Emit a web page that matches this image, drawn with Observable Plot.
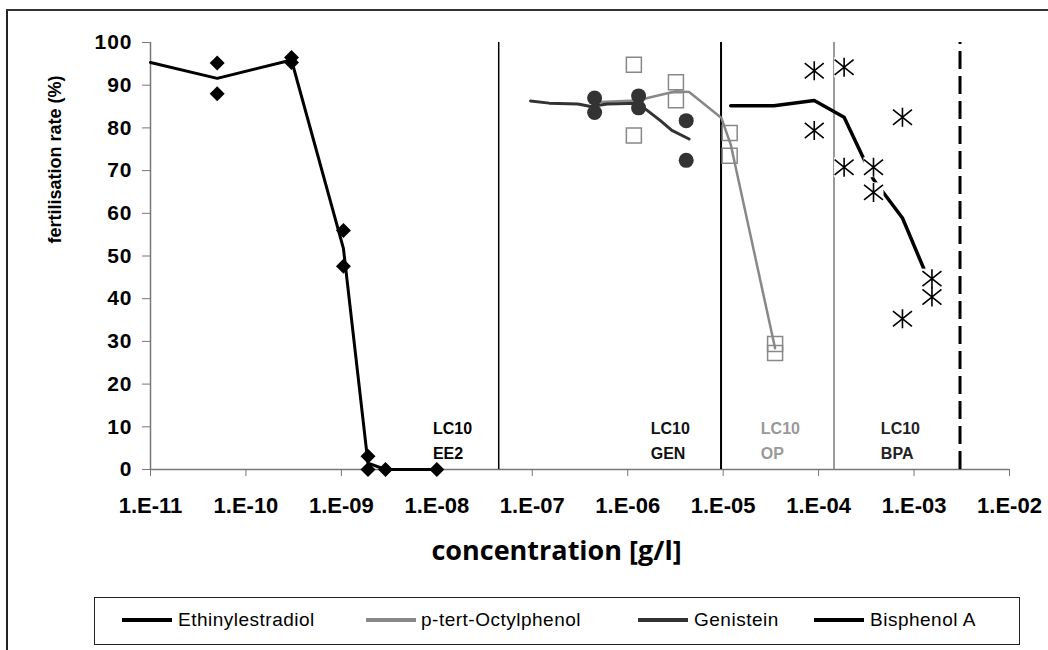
<!DOCTYPE html>
<html>
<head>
<meta charset="utf-8">
<script src="https://cdn.jsdelivr.net/npm/d3@7"></script>
<script src="https://cdn.jsdelivr.net/npm/@observablehq/plot@0.6"></script>
<style>
  html, body { margin: 0; padding: 0; background: #fff; }
  #page { position: relative; width: 1048px; height: 650px; overflow: hidden; background: #fff; }
  #chart { position: absolute; left: 0; top: 0; }
  #frameL { position: absolute; left: 6px; top: 9px; width: 2px; height: 660px; background: #222; }
  #frameT { position: absolute; left: 6px; top: 9px; width: 1060px; height: 2px; background: #333; }
  #legend { position: absolute; left: 94px; top: 597px; width: 926px; height: 48px; border: 1.5px solid #222; box-sizing: border-box; }
  .lg-line { position: absolute; height: 4px; width: 50px; top: 618px; }
  .lg-text { position: absolute; top: 609px; line-height: 22px; font: 19px "Liberation Sans", Arial, sans-serif; letter-spacing: 0.5px; color: #000; white-space: nowrap; }
  svg [aria-label="y-axis tick label"] text { letter-spacing: 1px; }
</style>
</head>
<body>
<div id="page">
  <div id="chart"></div>
  <div id="frameL"></div>
  <div id="frameT"></div>
  <div id="legend"></div>
</div>
<script>
// ---------- data ----------
// Ethinylestradiol (EE2): replicate points and mean line
const ee2Conc = [5e-11, 5e-11, 3e-10, 3e-10, 1.05e-9, 1.05e-9, 1.9e-9, 1.9e-9, 2.9e-9, 1e-8];
const ee2Rate = [95.2, 88.0, 96.5, 95.3, 56.0, 47.6, 3.1, 0, 0, 0];
const ee2LineConc = [1e-11, 5e-11, 3e-10, 1.05e-9, 1.9e-9, 2.9e-9, 1e-8];
const ee2LineRate = [95.3, 91.6, 95.9, 51.8, 1.5, 0, 0];

// p-tert-Octylphenol (OP)
const opConc = [1.16e-6, 1.16e-6, 3.2e-6, 3.2e-6, 1.17e-5, 1.17e-5, 3.5e-5, 3.5e-5];
const opRate = [94.8, 78.2, 90.7, 86.5, 78.8, 73.5, 29.4, 27.3];
const opLineConc = [4.5e-7, 1.25e-6, 3.2e-6, 4.4e-6, 9.6e-6, 1.2e-5, 3.5e-5];
const opLineRate = [86.0, 86.4, 88.6, 88.4, 82.3, 76.1, 28.4];

// Genistein (GEN)
const genConc = [4.5e-7, 4.5e-7, 1.3e-6, 1.3e-6, 4.1e-6, 4.1e-6];
const genRate = [87.0, 83.6, 87.5, 84.7, 81.7, 72.4];
const genLineConc = [9.6e-8, 1.5e-7, 3e-7, 4.1e-7, 6.1e-7, 1.26e-6, 1.6e-6, 2.2e-6, 2.9e-6, 4.4e-6];
const genLineRate = [86.3, 85.8, 85.6, 85.0, 85.6, 85.8, 84.1, 81.7, 79.4, 77.4];

// Bisphenol A (BPA)
const bpaConc = [9e-5, 9e-5, 1.85e-4, 1.85e-4, 3.76e-4, 3.76e-4, 7.56e-4, 7.56e-4, 1.54e-3, 1.54e-3];
const bpaRate = [93.4, 79.4, 94.2, 70.8, 70.8, 64.9, 82.5, 35.3, 44.7, 40.4];
const bpaLineConc = [1.2e-5, 3.4e-5, 9e-5, 1.85e-4, 3.76e-4, 7.56e-4, 1.54e-3];
const bpaLineRate = [85.2, 85.2, 86.4, 82.5, 67.9, 58.9, 42.5];

// LC10 marker lines and labels
const lcRuleConc = [4.45e-8, 9.5e-6, 1.45e-4, 3.03e-3];
const lcNames = ["EE2", "GEN", "OP", "BPA"];
const lcLabelConc = [9.1e-9, 1.74e-6, 2.48e-5, 4.49e-4];

// axes
const xTicks = [1e-11, 1e-10, 1e-9, 1e-8, 1e-7, 1e-6, 1e-5, 1e-4, 1e-3, 1e-2];
const xTickLabels = ["1.E-11", "1.E-10", "1.E-09", "1.E-08", "1.E-07", "1.E-06", "1.E-05", "1.E-04", "1.E-03", "1.E-02"];
const yTicks = [0, 10, 20, 30, 40, 50, 60, 70, 80, 90, 100];

const legendNames = ["Ethinylestradiol", "p-tert-Octylphenol", "Genistein", "Bisphenol A"];
const xTitle = "concentration [g/l]";
const yTitle = "fertilisation rate (%)";

// ---------- helpers ----------
const pts = (xs, ys) => xs.map((x, i) => ({x, y: ys[i]}));
const rad = (s) => Math.sqrt(s / Math.PI);
const diamondSym = {draw(c, s) { const r = rad(s); c.moveTo(0, -r); c.lineTo(r, 0); c.lineTo(0, r); c.lineTo(-r, 0); c.closePath(); }};
const squareSym = {draw(c, s) { const r = rad(s); c.moveTo(-r, -r); c.lineTo(r, -r); c.lineTo(r, r); c.lineTo(-r, r); c.closePath(); }};
const asteriskSym = {draw(c, s) { const r = rad(s); const k = 0.8;
  c.moveTo(0, -r); c.lineTo(0, r);
  c.moveTo(-r, -k * r); c.lineTo(r, k * r);
  c.moveTo(r, -k * r); c.lineTo(-r, k * r); }};

const font = "'Liberation Sans', Arial, sans-serif";
const lcColors = ["#000", "#111", "#999", "#222"];
const lcLabels = lcNames.map((n, i) => ({x: lcLabelConc[i], name: n, color: lcColors[i]}));

const chart = Plot.plot({
  width: 1048,
  height: 580,
  marginLeft: 150,
  marginRight: 39,
  marginTop: 42,
  marginBottom: 111,
  style: {background: "transparent", fontFamily: font, overflow: "visible"},
  x: {type: "log", domain: [1e-11, 1e-2]},
  y: {domain: [0, 100]},
  color: {type: "identity"},
  marks: [
    // axis lines
    Plot.ruleY([0], {stroke: "#777", strokeWidth: 1.5}),
    Plot.ruleX([1e-11], {stroke: "#777", strokeWidth: 1.5}),
    Plot.axisX({ticks: xTicks, tickFormat: (d) => xTickLabels[xTicks.indexOf(d)], tickSize: 7, tickPadding: 21,
      fontSize: 22, fontWeight: "bold", stroke: "#777", fill: "#000", label: null}),
    Plot.axisY({ticks: yTicks, tickSize: 8, tickPadding: 10, fontSize: 21, fontWeight: "bold",
      stroke: "#777", fill: "#000", label: null}),
    // LC10 rules
    Plot.ruleX([lcRuleConc[0]], {y1: 0, y2: 100, stroke: "#000", strokeWidth: 1.5}),
    Plot.ruleX([lcRuleConc[1]], {y1: 0, y2: 100, stroke: "#000", strokeWidth: 2}),
    Plot.ruleX([lcRuleConc[2]], {y1: 0, y2: 100, stroke: "#999", strokeWidth: 2}),
    Plot.ruleX([lcRuleConc[3]], {y1: 0, y2: 100, stroke: "#000", strokeWidth: 3, strokeDasharray: "18,7"}),
    // LC10 labels
    Plot.text(lcLabels, {x: "x", y: 9.4, text: () => "LC10", fill: "color", textAnchor: "start",
      fontSize: 16, fontWeight: "bold", lineAnchor: "middle", style: "letter-spacing:1.5px"}),
    Plot.text(lcLabels, {x: "x", y: 3.75, text: "name", fill: "color", textAnchor: "start",
      fontSize: 16, fontWeight: "bold", lineAnchor: "middle", style: "letter-spacing:0.5px"}),
    // lines
    Plot.line(pts(ee2LineConc, ee2LineRate), {x: "x", y: "y", stroke: "#000", strokeWidth: 3}),
    Plot.line(pts(opLineConc, opLineRate), {x: "x", y: "y", stroke: "#888", strokeWidth: 2.5}),
    Plot.line(pts(genLineConc, genLineRate), {x: "x", y: "y", stroke: "#333", strokeWidth: 3}),
    Plot.line(pts(bpaLineConc, bpaLineRate), {x: "x", y: "y", stroke: "#000", strokeWidth: 3.5}),
    // markers
    Plot.dot(pts(ee2Conc, ee2Rate), {x: "x", y: "y", symbol: diamondSym, r: 7.5, fill: "#000", stroke: "none"}),
    Plot.dot(pts(opConc, opRate), {x: "x", y: "y", symbol: squareSym, r: 7.5, fill: "none", stroke: "#888", strokeWidth: 1.5}),
    Plot.dot(pts(genConc, genRate), {x: "x", y: "y", r: 7.5, fill: "#333", stroke: "none"}),
    Plot.dot(pts(bpaConc, bpaRate), {x: "x", y: "y", symbol: squareSym, r: 10, fill: "#fff", stroke: "none"}),
    Plot.dot(pts(bpaConc, bpaRate), {x: "x", y: "y", symbol: asteriskSym, r: 9.5, fill: "none", stroke: "#000", strokeWidth: 1.6}),
    // axis titles
    Plot.text([xTitle], {frameAnchor: "bottom", dx: -23.5, dy: 82, lineAnchor: "middle",
      fontFamily: "'Open Sans', 'Noto Sans', sans-serif", fontSize: 27, fontWeight: "bold", fill: "#000"}),
    Plot.text([yTitle], {frameAnchor: "left", rotate: -90, dx: -95, dy: -12.5, lineAnchor: "middle",
      fontSize: 18, fontWeight: "bold", fill: "#000", style: "letter-spacing:1px"})
  ]
});
document.getElementById("chart").appendChild(chart);

// ---------- legend ----------
const legendColors = ["#000", "#888", "#333", "#000"];
const legendLineX = [122, 366, 638, 814];
const legendTextX = [178, 421, 694, 870];
const page = document.getElementById("page");
legendNames.forEach((name, i) => {
  const ln = document.createElement("div");
  ln.className = "lg-line";
  ln.style.left = legendLineX[i] + "px";
  ln.style.background = legendColors[i];
  page.appendChild(ln);
  const tx = document.createElement("div");
  tx.className = "lg-text";
  tx.style.left = legendTextX[i] + "px";
  tx.textContent = name;
  page.appendChild(tx);
});
</script>
</body>
</html>
